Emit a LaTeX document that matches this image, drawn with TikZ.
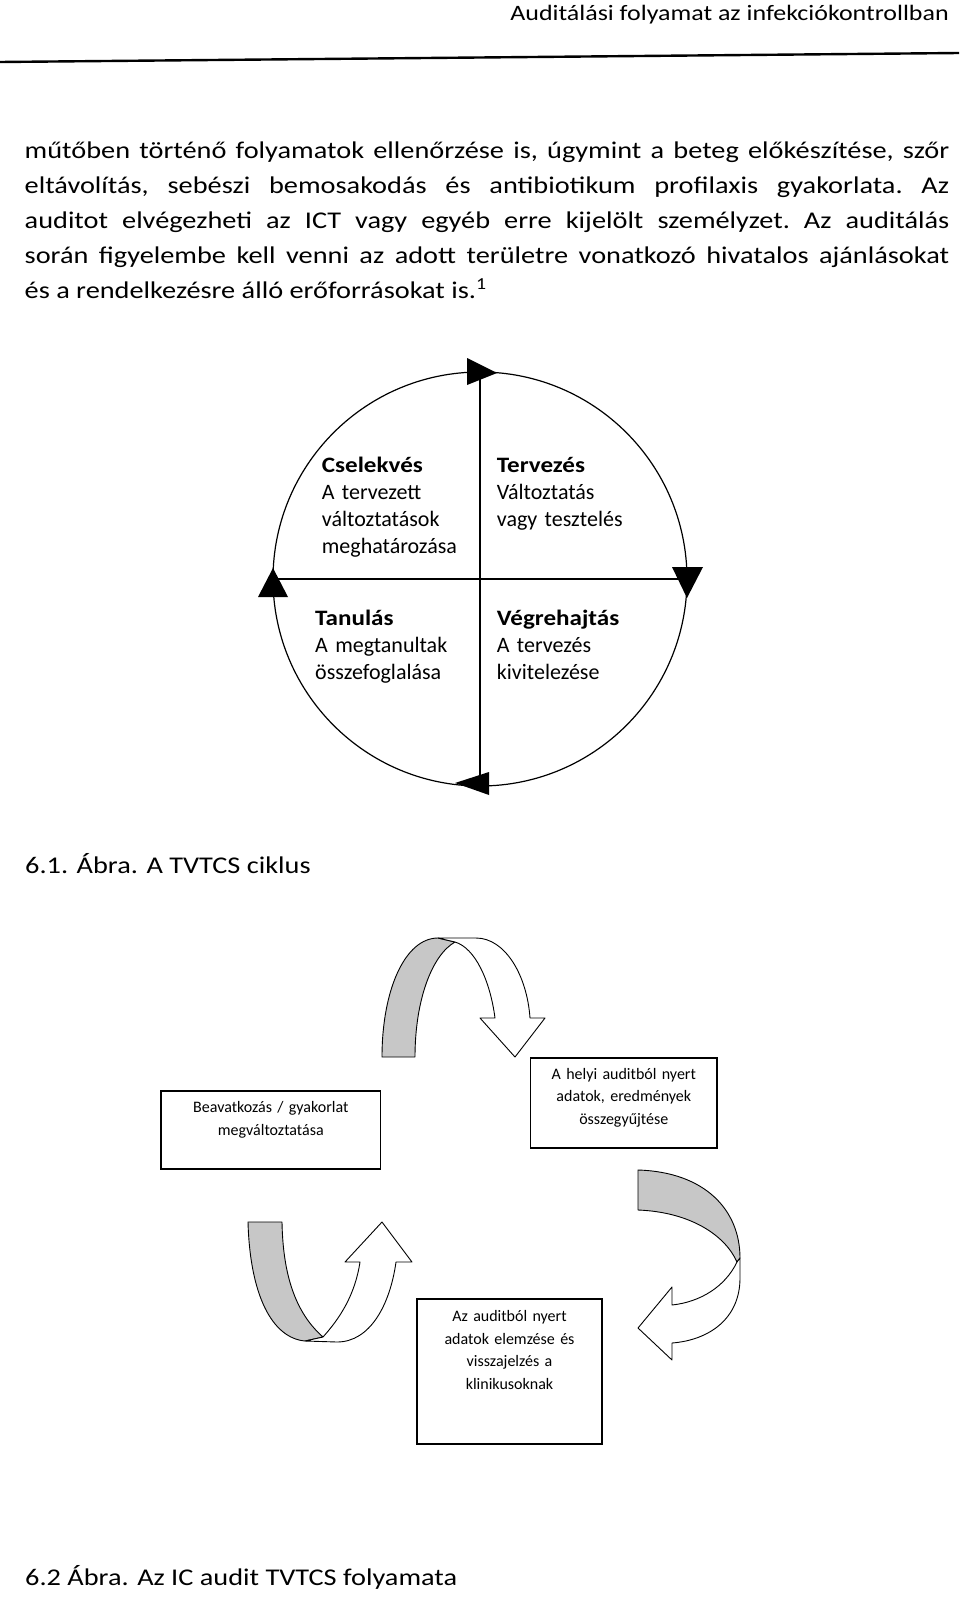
\documentclass[tikz,border=0pt]{standalone}
\usepackage{fontspec}
\setmainfont{Carlito}
\newfontfamily\widefont[FakeStretch=1.18]{Carlito}
\newfontfamily\titlefont[FakeStretch=1.14]{Carlito}

\begin{document}
\begin{tikzpicture}[x=1pt,y=-1pt]
\useasboundingbox[fill=white] (0,0) rectangle (960,1600);
\tikzstyle{txt}=[inner sep=0pt, font=\widefont\fontsize{24}{35}\selectfont]
\tikzstyle{qtxt}=[inner sep=0pt, anchor=base west, align=left, text width=200,
                        font=\fontsize{22}{27}\selectfont]
\tikzstyle{box}=[draw, line width=1.3pt, inner sep=0pt]
\tikzstyle{btxt}=[inner sep=0pt, anchor=base, align=center, text width=180,
                        font=\fontsize{16}{22.6}\selectfont]
\tikzstyle{back}=[draw, line width=0.9pt, fill=black!22, line join=round]
\tikzstyle{front}=[draw, line width=0.9pt, fill=white, line join=round]
\newcommand{\qtitle}[1]{{\titlefont\bfseries #1}}

% page header
\node[txt, anchor=base east, font=\widefont\fontsize{22}{26}\selectfont] (head) at (949,20.7) {Auditálási folyamat az infekciókontrollban};
\coordinate (rl) at (0,62);
\coordinate (rr) at (959,53);
\draw[line width=2.4pt] (rl) -- (rr);

% text
\node[txt, anchor=base west, text width=924.5, align=justify] (para) at (24.5,158.3) {\tolerance=10000\hyphenpenalty=10000\frenchspacing
műtőben történő folyamatok ellenőrzése is, úgymint a beteg előkészítése, szőr\linebreak
eltávolítás, sebészi bemosakodás és antibiotikum profilaxis gyakorlata. Az\linebreak
auditot elvégezheti az ICT vagy egyéb erre kijelölt személyzet. Az auditálás\linebreak
során figyelembe kell venni az adott területre vonatkozó hivatalos ajánlásokat\linebreak
és a rendelkezésre álló erőforrásokat is.\textsuperscript{1}};

% TVTCS circle
\coordinate (o) at (480,579);
\coordinate (n) at (480,372);
\coordinate (s) at (480,786);
\coordinate (w) at (273,579);
\coordinate (e) at (687,579);
\draw[line width=1.2pt] (o) circle (207);
\draw[line width=1.2pt] (n) -- (s);
\draw[line width=1.2pt] (w) -- (e);
\foreach \ax/\ay/\bx/\by/\cx/\cy in {467/358/467/385/497/373, 672/567/703/567/687/598,
    489/772/489/795/455/783, 258/597/288/597/273/568}{\fill (\ax,\ay) -- (\bx,\by) -- (\cx,\cy) -- cycle;}

\node[qtxt] (csel) at (321.7,472.5) {\qtitle{Cselekvés}\\A tervezett\\változtatások\\meghatározása};
\node[qtxt] (terv) at (496.7,472.5) {\qtitle{Tervezés}\\Változtatás\\vagy tesztelés};
\node[qtxt] (tan) at (315,625) {\qtitle{Tanulás}\\A megtanultak\\összefoglalása};
\node[qtxt] (vegr) at (496.7,625) {\qtitle{Végrehajtás}\\A tervezés\\kivitelezése};

\node[txt, anchor=base west] (cap1) at (25,873) {6.1. Ábra. A TVTCS ciklus};

% IC audit cycle
\node[box, minimum width=219.5, minimum height=78] (beav) at (270.8,1130) {};
\node[box, minimum width=186.5, minimum height=90] (helyi) at (623.8,1103) {};
\node[box, minimum width=185, minimum height=145] (elemz) at (509.5,1371.5) {};
\node[btxt] (beavt) at (270.8,1112.7) {Beavatkozás / gyakorlat\\megváltoztatása};
\node[btxt] (helyit) at (623.8,1079) {A helyi auditból nyert\\adatok, eredmények\\összegyűjtése};
\node[btxt] (elemzt) at (509.5,1321.7) {Az auditból nyert\\adatok elemzése és\\visszajelzés a\\klinikusoknak};

% curved arrows
\draw[back] (382,1057) .. controls (382,990) and (405,938) .. (438,938) -- (455,942) .. controls (432,955) and (415,1000) .. (415,1057) -- cycle;
\draw[front] (438,938) -- (476,938) .. controls (505,938) and (527,975) .. (530,1018) -- (545,1018) -- (515,1057) -- (480,1018) -- (495,1018) .. controls (490,980) and (475,948) .. (455,942) -- cycle;

\draw[back] (638,1170) .. controls (705,1172) and (740,1210) .. (740,1258) -- (737,1262) .. controls (725,1235) and (690,1212) .. (638,1210) -- cycle;
\draw[front] (737,1262) .. controls (725,1287) and (700,1302) .. (672,1305) -- (672,1287) -- (638,1328) -- (672,1360) -- (672,1343) .. controls (710,1340) and (740,1318) .. (740,1278) -- (740,1258) -- cycle;

\draw[back] (248,1222) .. controls (250,1295) and (272,1338) .. (305,1341) -- (323,1337) .. controls (298,1315) and (283,1280) .. (282,1222) -- cycle;
\draw[front] (305,1341) -- (323,1337) .. controls (340,1318) and (355,1295) .. (360,1262) -- (345,1262) -- (382,1222) -- (412,1262) -- (396,1262) .. controls (390,1305) and (370,1342) .. (337,1342) -- cycle;

\node[txt, anchor=base west] (cap2) at (25,1585) {6.2 Ábra. Az IC audit TVTCS folyamata};
\end{tikzpicture}
\end{document}
